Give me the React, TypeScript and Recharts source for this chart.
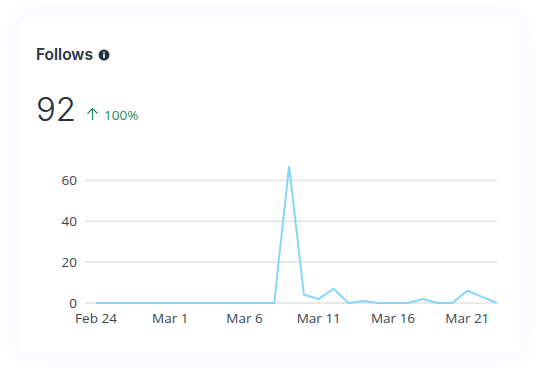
import React from "react";
import { LineChart, Line, XAxis, YAxis, CartesianGrid } from "recharts";

const dates = ["Feb 24","Feb 25","Feb 26","Feb 27","Feb 28","Mar 1","Mar 2","Mar 3","Mar 4","Mar 5","Mar 6","Mar 7","Mar 8","Mar 9","Mar 10","Mar 11","Mar 12","Mar 13","Mar 14","Mar 15","Mar 16","Mar 17","Mar 18","Mar 19","Mar 20","Mar 21","Mar 22","Mar 23"];
const follows = [0,0,0,0,0,0,0,0,0,0,0,0,0,67,4,2,7,0,1,0,0,0,2,0,0,6,3,0];
const yTicks = [0,20,40,60];
const data = dates.map((d, i) => ({ date: d, follows: follows[i] }));

const textColor = "#27323f";
const tickStyle = { fontFamily: "'Open Sans', sans-serif", fontSize: 13.5, fill: "#3a4551" };

export default function App() {
  return (
    <div style={{ position: "absolute", left: 0, top: 0, width: 560, height: 392, background: "#fff", overflow: "hidden" }}>
      <div style={{ position: "absolute", left: 20, top: 20, width: 500, height: 332, background: "#fff", borderRadius: 4, boxShadow: "0 0 24px 6px rgba(225,228,255,0.28)" }} />
      <div style={{ position: "absolute", left: 36, top: 45, fontFamily: "Inter, sans-serif", fontWeight: 600, fontSize: 15.5, lineHeight: "20px", color: textColor }}>Follows</div>
      <svg style={{ position: "absolute", left: 98, top: 49 }} width="12" height="12" viewBox="0 0 12 12">
        <circle cx="6" cy="6" r="5.5" fill={textColor} />
        <rect x="5.2" y="5" width="1.6" height="4" fill="#fff" />
        <rect x="5.2" y="2.8" width="1.6" height="1.5" fill="#fff" />
      </svg>
      <div style={{ position: "absolute", left: 36, top: 88, fontFamily: "Inter, sans-serif", fontSize: 33, lineHeight: "42px", fontWeight: 300, color: textColor }}>92</div>
      <svg style={{ position: "absolute", left: 86, top: 107 }} width="13" height="14" viewBox="0 0 13 14">
        <path d="M6.5 13V1.5M1.5 6.5L6.5 1.5L11.5 6.5" fill="none" stroke="#1f8a66" strokeWidth="1.2" />
      </svg>
      <div style={{ position: "absolute", left: 104, top: 106, fontFamily: "'Open Sans', sans-serif", fontSize: 13.5, lineHeight: "18px", color: "#1f8a66" }}>100%</div>
      <div style={{ position: "absolute", left: 0, top: 0 }}>
        <LineChart width={560} height={392} data={data} margin={{ top: 160, right: 63, bottom: 60, left: 0 }}>
          <CartesianGrid vertical={false} horizontalValues={yTicks} stroke="#e2e2e2" strokeWidth={1.5} />
          <XAxis dataKey="date" interval={4} axisLine={false} tickLine={false} tick={tickStyle} tickMargin={4} padding={{ left: 11, right: 0 }} height={29} />
          <YAxis domain={[0, 70]} ticks={yTicks} axisLine={false} tickLine={false} tick={tickStyle} tickMargin={2} width={85} />
          <Line type="linear" dataKey="follows" stroke="#85d6ff" strokeWidth={2} dot={false} isAnimationActive={false} />
        </LineChart>
      </div>
    </div>
  );
}
